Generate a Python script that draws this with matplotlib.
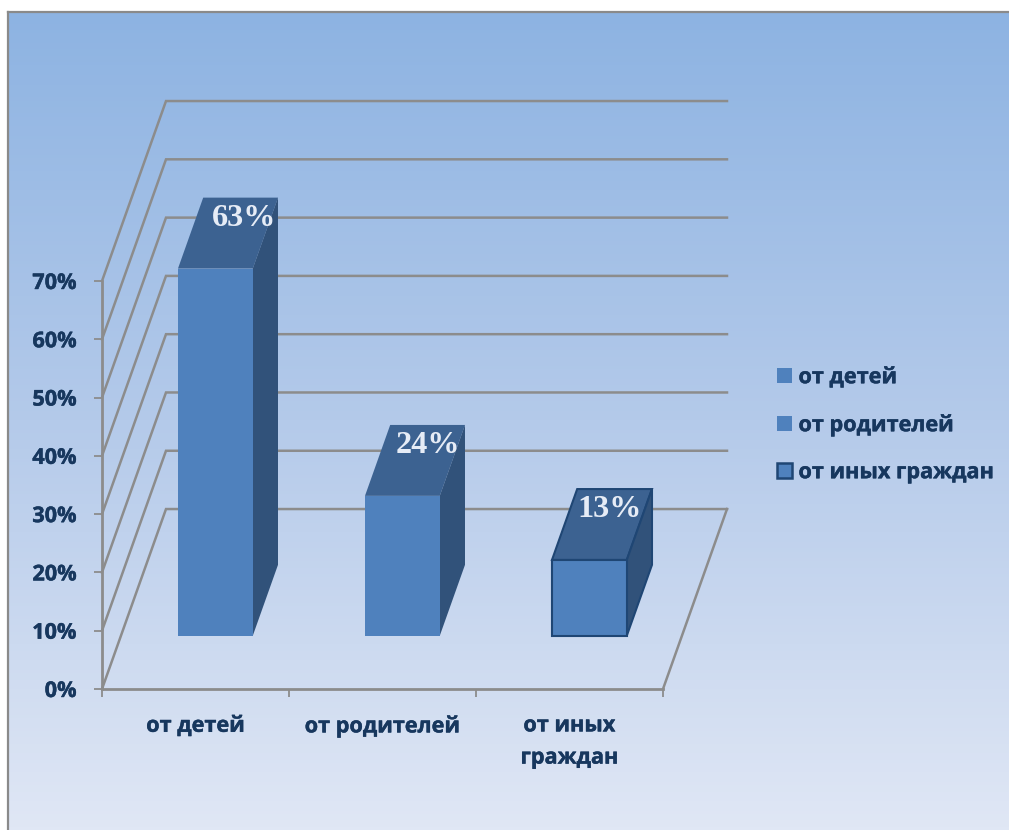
# -*- coding: utf-8 -*-
"""Pseudo-3D column chart: share of appeals by type of applicant."""
import numpy as np
import matplotlib
matplotlib.use('Agg')
import matplotlib.pyplot as plt
import matplotlib.patheffects as pe
from matplotlib.patches import Patch
from matplotlib.colors import LinearSegmentedColormap

categories = ['от детей', 'от родителей', 'от иных\nграждан']
values = [63, 24, 13]
value_labels = ['63%', '24%', '13%']
yticks = [0, 10, 20, 30, 40, 50, 60, 70]
ytick_labels = ['0%', '10%', '20%', '30%', '40%', '50%', '60%', '70%']
series_names = ['от детей', 'от родителей', 'от иных граждан']

W, H = 1009, 830
TEXT = '#17375E'
GRID = '#8C8C8C'
FRONT = '#4F81BD'
TOP = '#3C6291'
SIDE = '#31527A'
EDGE = '#1F4674'
FS = 15.6
# the installed bold is a bit light next to the original, thicken it slightly
HEAVY = [pe.withStroke(linewidth=0.3, foreground=TEXT)]

# oblique projection: how far the back wall is shifted, in data units
DX = 64 / 187.0
DY = 180 / 5.83
BAR_W = 0.4
BAR_SHIFT = 0.005
D0, D1 = 0.296, 0.69


def proj(x, y, d):
    return x + d * DX, y + d * DY


plt.rcParams['font.family'] = ['Open Sans', 'DejaVu Sans']
fig = plt.figure(figsize=(W / 100, H / 100), dpi=100, facecolor='white')

# background panel with vertical gradient
bg = fig.add_axes([8 / W, 0, 1 - 8 / W, 1 - 12 / H])
grad = np.linspace(0, 1, 256).reshape(-1, 1)
cmap = LinearSegmentedColormap.from_list('panel', ['#8DB3E2', '#B4CAEA', '#E0E7F5'])
bg.imshow(grad, aspect='auto', cmap=cmap, vmin=0, vmax=1)
bg.set_xticks([])
bg.set_yticks([])
for name, sp in bg.spines.items():
    sp.set_color('#8A8A8A')
    sp.set_linewidth(1.6)
    sp.set_visible(name in ('left', 'top'))

# main axes: x in category units, y in percent
ax = fig.add_axes([102 / W, (H - 689) / H, 561 / W, 408 / H])
ax.patch.set_alpha(0)
ax.set_xlim(0, len(categories))
ax.set_ylim(0, 70)

# walls and floor
for t in yticks:
    bx, by = proj(0, t, 1)
    ex, ey = proj(len(categories), t, 1)
    ax.plot([0, bx, ex], [t, by, ey], color=GRID, lw=1.8, clip_on=False, zorder=1,
            solid_joinstyle='miter')
fx, fy = proj(len(categories), 0, 1)
ax.plot([len(categories), fx], [0, fy], color=GRID, lw=1.8, clip_on=False, zorder=1)

# bars
for i, v in enumerate(values):
    xl, xr = i + 0.5 - BAR_W / 2 + BAR_SHIFT, i + 0.5 + BAR_W / 2 + BAR_SHIFT
    base = proj(xl, 0, D0)
    ec = EDGE if i == 2 else 'none'
    lw = 1.5 if i == 2 else 0
    ax.bar(base[0] + BAR_W / 2, v, width=BAR_W, bottom=base[1], color=FRONT,
           edgecolor=ec, linewidth=lw, zorder=4, clip_on=False)
    top = [proj(xl, v, D0), proj(xr, v, D0), proj(xr, v, D1), proj(xl, v, D1)]
    side = [proj(xr, 0, D0), proj(xr, v, D0), proj(xr, v, D1), proj(xr, 0, D1)]
    ax.fill(*zip(*top), facecolor=TOP, edgecolor=ec, linewidth=lw, zorder=3, clip_on=False)
    ax.fill(*zip(*side), facecolor=SIDE, edgecolor=ec, linewidth=lw, zorder=3, clip_on=False)

# value labels sit on the top face
label_shift = [11.5, 9, 3]
for i, (v, lab) in enumerate(zip(values, value_labels)):
    lx, ly = proj(i + 0.5, v, D0 + 0.28)
    ax.annotate(lab, xy=(lx, ly), xytext=(label_shift[i] * 0.72, 0), textcoords='offset points',
                ha='center', va='center', color='#E6ECF6', fontsize=23.2, fontweight='bold',
                family='Liberation Serif', zorder=6, annotation_clip=False)

# axes furniture
for name in ('top', 'right'):
    ax.spines[name].set_visible(False)
for name in ('left', 'bottom'):
    ax.spines[name].set_color(GRID)
    ax.spines[name].set_linewidth(2.0)
ax.set_yticks(yticks)
ax.set_yticklabels(ytick_labels)
ax.set_xticks(range(len(categories) + 1))
ax.set_xticklabels([])
ax.tick_params(axis='y', length=5.5, width=1.3, color=GRID, labelcolor=TEXT, pad=13,
               labelsize=FS)
ax.tick_params(axis='x', length=5.5, width=1.3, color=GRID)
for lab in ax.get_yticklabels():
    lab.set_fontweight('bold')
    lab.set_path_effects(HEAVY)
for i, cat in enumerate(categories):
    ax.annotate(cat, xy=(i + 0.5, 0), xytext=(0, -19), textcoords='offset points',
                ha='center', va='top', color=TEXT, fontsize=FS, fontweight='bold',
                linespacing=1.7, annotation_clip=False, path_effects=HEAVY)

# legend
handles = [Patch(facecolor=FRONT, edgecolor='none'),
           Patch(facecolor=FRONT, edgecolor='none'),
           Patch(facecolor=FRONT, edgecolor=EDGE, linewidth=1.8)]
leg = fig.legend(handles, series_names, loc='center left', bbox_to_anchor=(777 / W, (H - 425) / H),
                 frameon=False, labelcolor=TEXT, prop={'weight': 'bold', 'size': FS},
                 handlelength=0.69, handleheight=0.69, handletextpad=0.3, labelspacing=1.2,
                 borderpad=0, borderaxespad=0)
for txt in leg.get_texts():
    txt.set_path_effects(HEAVY)

fig.savefig('out.png', dpi=100)
